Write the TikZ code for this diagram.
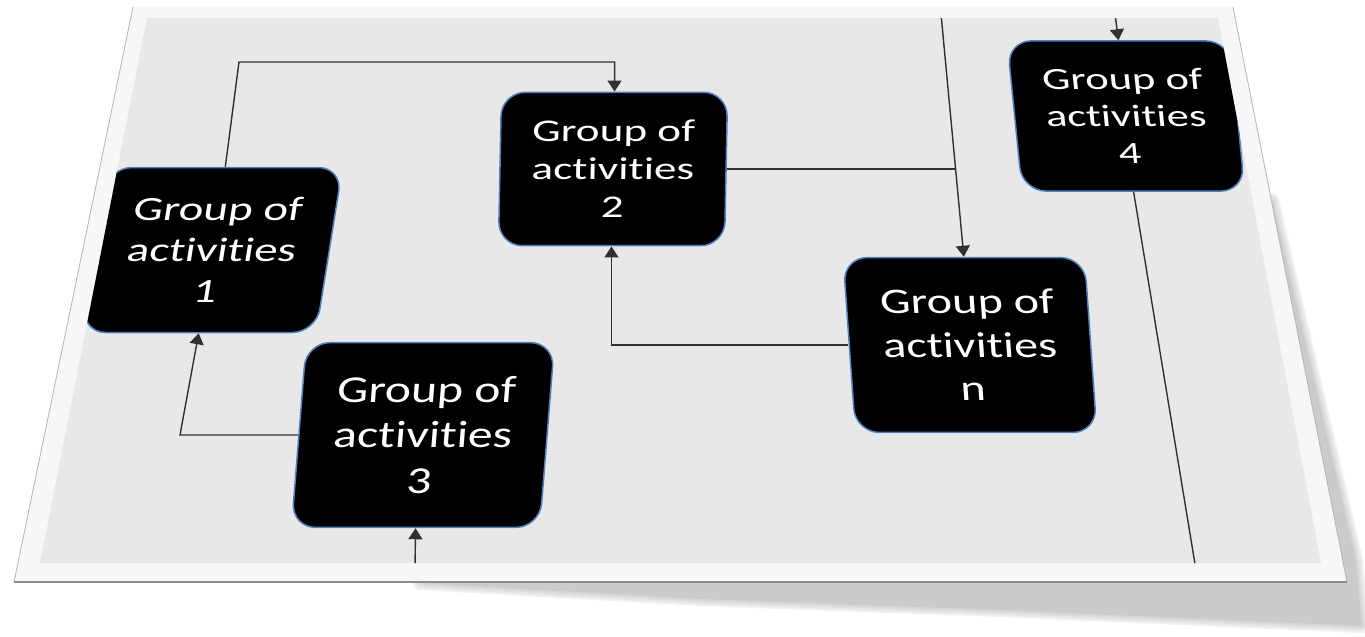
\documentclass[tikz,border=0pt]{standalone}
\usepackage{fontspec}
\setmainfont{Carlito}[Ligatures={NoCommon,NoRequired,NoContextual}]
\usetikzlibrary{arrows.meta,calc}
\definecolor{panelgray}{HTML}{E8E8E8}
\definecolor{framewhite}{HTML}{F7F7F7}
\definecolor{frameedge}{HTML}{B4B4B4}
\definecolor{edgeblue}{HTML}{4F81BD}
\definecolor{wire}{HTML}{303030}
\definecolor{shadowgray}{HTML}{CBCBCB}
\begin{document}
\begin{tikzpicture}[x=1pt,y=1pt,
  grp/.style={draw=edgeblue, line width=1.5pt, fill=black, rounded corners=24pt,
    minimum width=170pt, minimum height=165pt, inner sep=0pt, align=center,
    text=white, font=\fontsize{34}{41}\selectfont, transform shape},
  link/.style={draw=wire, line width=1.4pt},
  arr/.style={link, -{Triangle[length=11pt,width=14pt]}}]

\useasboundingbox (0,0) rectangle (1365,-637);
\fill[white] (0,0) rectangle (1365,-637);

% soft drop shadow under the sheet
\def\shadowpath{(1272,-200) -- (1356,-560) -- (1362,-626) -- (1000,-610) -- (700,-599) -- (420,-583) -- (1200,-400) -- cycle}
\foreach \w in {14,10,6,3}{
  \draw[draw=shadowgray, line width=\w pt, line join=round, opacity=0.28] \shadowpath;
}
\fill[fill=shadowgray] \shadowpath;

% the sheet: white frame and grey drawing area
\fill[framewhite] (133,-7) -- (1233,-7) -- (1347,-582) -- (14,-582) -- cycle;
\draw[frameedge, line width=0.8pt] (14,-582) -- (133,-7);
\draw[frameedge, line width=0.8pt] (1233,-7) -- (1347,-582);
\draw[black!45, line width=1.5pt] (14,-582) -- (1347,-582);
\fill[panelgray] (147,-18) -- (1218,-18) -- (1321,-563) -- (40,-563) -- cycle;

\begin{scope}
\clip (147,-18) -- (1218,-18) -- (1321,-563) -- (40,-563) -- cycle;

% activity groups
\begin{scope}[shift={(212,-250)}]
  \node[grp, xslant=0.16, xscale=1.38, yscale=1.0] (g1) {Group of\\activities\\1};
\end{scope}
\begin{scope}[shift={(613,-169)}]
  \node[grp, xslant=0.02, xscale=1.33, yscale=0.93] (g2) {Group of\\activities\\2};
\end{scope}
\begin{scope}[shift={(423,-435)}]
  \node[grp, xslant=0.08, xscale=1.46, yscale=1.12] (g3) {Group of\\activities\\3};
\end{scope}
\begin{scope}[shift={(1126,-116)}]
  \node[grp, xslant=-0.1, xscale=1.31, yscale=0.91] (g4) {Group of\\activities\\4};
\end{scope}
\begin{scope}[shift={(970,-345)}]
  \node[grp, xslant=-0.07, xscale=1.42, yscale=1.06] (gn) {Group of\\activities\\n};
\end{scope}

% connectors
\coordinate (c1) at (239,-62);
\coordinate (c2) at (180,-435);
\coordinate (t1) at (941,-14);
\coordinate (t2) at (1115,-14);
\coordinate (b1) at (1196,-570);
\coordinate (b2) at (415,-570);
\coordinate (j) at ($(t1)!0.655!(gn.north)$);

\draw[arr] (g1.north) -- (c1) -| (g2.north);
\draw[arr] (g3.west) -- (c2) -- (g1.south);
\draw[arr] (gn.west) -| (g2.south);
\draw[arr] (t1) -- (gn.north);
\draw[link] (g2.east) -- (g2.east -| j);
\draw[arr] (t2) -- (g4.north);
\draw[link] (g4.south) -- (b1);
\draw[arr] (b2) -- (g3.south);
\end{scope}
\end{tikzpicture}
\end{document}
